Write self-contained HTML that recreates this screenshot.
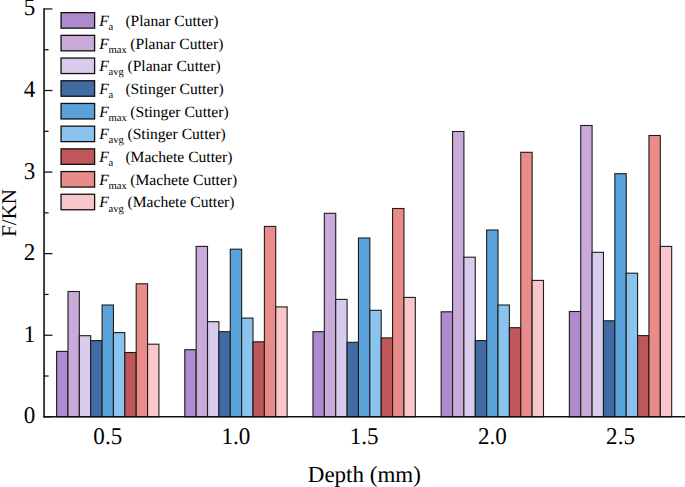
<!DOCTYPE html>
<html><head><meta charset="utf-8"><style>
html,body{margin:0;padding:0;background:#fff;}
body{width:685px;height:487px;overflow:hidden;}
svg{display:block;}
text{font-family:"Liberation Serif",serif;fill:#000;text-rendering:geometricPrecision;}
.tl{font-size:23px;}
.tn{font-size:24px;}
.yt{font-size:21px;}
.lf{font-size:15.7px;font-style:italic;}
.ls{font-size:10.6px;}
.lt{font-size:15.6px;}
</style></head><body>
<svg width="685" height="487" viewBox="0 0 685 487">
<rect width="685" height="487" fill="#fff"/>
<rect x="56.60" y="351.40" width="11.37" height="65.40" fill="#AE8BCE" stroke="#1c1c1c" stroke-width="1.1"/>
<rect x="67.97" y="291.50" width="11.37" height="125.30" fill="#CAAAD8" stroke="#1c1c1c" stroke-width="1.1"/>
<rect x="79.34" y="335.70" width="11.37" height="81.10" fill="#D8CCEC" stroke="#1c1c1c" stroke-width="1.1"/>
<rect x="90.71" y="340.60" width="11.37" height="76.20" fill="#406CA3" stroke="#1c1c1c" stroke-width="1.1"/>
<rect x="102.08" y="305.00" width="11.37" height="111.80" fill="#5BA2DA" stroke="#1c1c1c" stroke-width="1.1"/>
<rect x="113.45" y="332.60" width="11.37" height="84.20" fill="#89C3EE" stroke="#1c1c1c" stroke-width="1.1"/>
<rect x="124.82" y="352.50" width="11.37" height="64.30" fill="#C0565A" stroke="#1c1c1c" stroke-width="1.1"/>
<rect x="136.19" y="283.80" width="11.37" height="133.00" fill="#E98C89" stroke="#1c1c1c" stroke-width="1.1"/>
<rect x="147.56" y="344.20" width="11.37" height="72.60" fill="#F9C6CB" stroke="#1c1c1c" stroke-width="1.1"/>
<rect x="184.79" y="349.70" width="11.37" height="67.10" fill="#AE8BCE" stroke="#1c1c1c" stroke-width="1.1"/>
<rect x="196.16" y="246.40" width="11.37" height="170.40" fill="#CAAAD8" stroke="#1c1c1c" stroke-width="1.1"/>
<rect x="207.53" y="321.70" width="11.37" height="95.10" fill="#D8CCEC" stroke="#1c1c1c" stroke-width="1.1"/>
<rect x="218.90" y="331.70" width="11.37" height="85.10" fill="#406CA3" stroke="#1c1c1c" stroke-width="1.1"/>
<rect x="230.27" y="249.20" width="11.37" height="167.60" fill="#5BA2DA" stroke="#1c1c1c" stroke-width="1.1"/>
<rect x="241.64" y="318.10" width="11.37" height="98.70" fill="#89C3EE" stroke="#1c1c1c" stroke-width="1.1"/>
<rect x="253.01" y="341.80" width="11.37" height="75.00" fill="#C0565A" stroke="#1c1c1c" stroke-width="1.1"/>
<rect x="264.38" y="226.40" width="11.37" height="190.40" fill="#E98C89" stroke="#1c1c1c" stroke-width="1.1"/>
<rect x="275.75" y="306.90" width="11.37" height="109.90" fill="#F9C6CB" stroke="#1c1c1c" stroke-width="1.1"/>
<rect x="312.98" y="331.70" width="11.37" height="85.10" fill="#AE8BCE" stroke="#1c1c1c" stroke-width="1.1"/>
<rect x="324.35" y="213.30" width="11.37" height="203.50" fill="#CAAAD8" stroke="#1c1c1c" stroke-width="1.1"/>
<rect x="335.72" y="299.40" width="11.37" height="117.40" fill="#D8CCEC" stroke="#1c1c1c" stroke-width="1.1"/>
<rect x="347.09" y="342.30" width="11.37" height="74.50" fill="#406CA3" stroke="#1c1c1c" stroke-width="1.1"/>
<rect x="358.46" y="238.00" width="11.37" height="178.80" fill="#5BA2DA" stroke="#1c1c1c" stroke-width="1.1"/>
<rect x="369.83" y="310.30" width="11.37" height="106.50" fill="#89C3EE" stroke="#1c1c1c" stroke-width="1.1"/>
<rect x="381.20" y="337.90" width="11.37" height="78.90" fill="#C0565A" stroke="#1c1c1c" stroke-width="1.1"/>
<rect x="392.57" y="208.50" width="11.37" height="208.30" fill="#E98C89" stroke="#1c1c1c" stroke-width="1.1"/>
<rect x="403.94" y="297.40" width="11.37" height="119.40" fill="#F9C6CB" stroke="#1c1c1c" stroke-width="1.1"/>
<rect x="441.17" y="311.80" width="11.37" height="105.00" fill="#AE8BCE" stroke="#1c1c1c" stroke-width="1.1"/>
<rect x="452.54" y="131.50" width="11.37" height="285.30" fill="#CAAAD8" stroke="#1c1c1c" stroke-width="1.1"/>
<rect x="463.91" y="257.20" width="11.37" height="159.60" fill="#D8CCEC" stroke="#1c1c1c" stroke-width="1.1"/>
<rect x="475.28" y="340.60" width="11.37" height="76.20" fill="#406CA3" stroke="#1c1c1c" stroke-width="1.1"/>
<rect x="486.65" y="230.00" width="11.37" height="186.80" fill="#5BA2DA" stroke="#1c1c1c" stroke-width="1.1"/>
<rect x="498.02" y="305.00" width="11.37" height="111.80" fill="#89C3EE" stroke="#1c1c1c" stroke-width="1.1"/>
<rect x="509.39" y="327.70" width="11.37" height="89.10" fill="#C0565A" stroke="#1c1c1c" stroke-width="1.1"/>
<rect x="520.76" y="152.30" width="11.37" height="264.50" fill="#E98C89" stroke="#1c1c1c" stroke-width="1.1"/>
<rect x="532.13" y="280.40" width="11.37" height="136.40" fill="#F9C6CB" stroke="#1c1c1c" stroke-width="1.1"/>
<rect x="569.36" y="311.50" width="11.37" height="105.30" fill="#AE8BCE" stroke="#1c1c1c" stroke-width="1.1"/>
<rect x="580.73" y="125.50" width="11.37" height="291.30" fill="#CAAAD8" stroke="#1c1c1c" stroke-width="1.1"/>
<rect x="592.10" y="252.30" width="11.37" height="164.50" fill="#D8CCEC" stroke="#1c1c1c" stroke-width="1.1"/>
<rect x="603.47" y="320.80" width="11.37" height="96.00" fill="#406CA3" stroke="#1c1c1c" stroke-width="1.1"/>
<rect x="614.84" y="173.70" width="11.37" height="243.10" fill="#5BA2DA" stroke="#1c1c1c" stroke-width="1.1"/>
<rect x="626.21" y="273.20" width="11.37" height="143.60" fill="#89C3EE" stroke="#1c1c1c" stroke-width="1.1"/>
<rect x="637.58" y="335.60" width="11.37" height="81.20" fill="#C0565A" stroke="#1c1c1c" stroke-width="1.1"/>
<rect x="648.95" y="135.50" width="11.37" height="281.30" fill="#E98C89" stroke="#1c1c1c" stroke-width="1.1"/>
<rect x="660.32" y="246.40" width="11.37" height="170.40" fill="#F9C6CB" stroke="#1c1c1c" stroke-width="1.1"/>
<line x1="44.05" y1="8.3" x2="44.05" y2="417.5" stroke="#111" stroke-width="1.6"/>
<line x1="43.25" y1="416.8" x2="685" y2="416.8" stroke="#111" stroke-width="1.4"/>
<line x1="44.05" y1="416.80" x2="52.4" y2="416.80" stroke="#111" stroke-width="1.25"/>
<text transform="translate(35.3,423.30) scale(0.96,1)" text-anchor="end" class="tn">0</text>
<line x1="44.05" y1="376.01" x2="48.6" y2="376.01" stroke="#111" stroke-width="1.25"/>
<line x1="44.05" y1="335.23" x2="52.4" y2="335.23" stroke="#111" stroke-width="1.25"/>
<text transform="translate(35.3,341.73) scale(0.96,1)" text-anchor="end" class="tn">1</text>
<line x1="44.05" y1="294.44" x2="48.6" y2="294.44" stroke="#111" stroke-width="1.25"/>
<line x1="44.05" y1="253.65" x2="52.4" y2="253.65" stroke="#111" stroke-width="1.25"/>
<text transform="translate(35.3,260.15) scale(0.96,1)" text-anchor="end" class="tn">2</text>
<line x1="44.05" y1="212.86" x2="48.6" y2="212.86" stroke="#111" stroke-width="1.25"/>
<line x1="44.05" y1="172.07" x2="52.4" y2="172.07" stroke="#111" stroke-width="1.25"/>
<text transform="translate(35.3,178.57) scale(0.96,1)" text-anchor="end" class="tn">3</text>
<line x1="44.05" y1="131.29" x2="48.6" y2="131.29" stroke="#111" stroke-width="1.25"/>
<line x1="44.05" y1="90.50" x2="52.4" y2="90.50" stroke="#111" stroke-width="1.25"/>
<text transform="translate(35.3,97.00) scale(0.96,1)" text-anchor="end" class="tn">4</text>
<line x1="44.05" y1="49.71" x2="48.6" y2="49.71" stroke="#111" stroke-width="1.25"/>
<line x1="44.05" y1="8.93" x2="52.4" y2="8.93" stroke="#111" stroke-width="1.25"/>
<text transform="translate(35.3,15.43) scale(0.96,1)" text-anchor="end" class="tn">5</text>
<text transform="translate(107.77,443.8) scale(0.96,1)" text-anchor="middle" class="tn">0.5</text>
<text transform="translate(235.95,443.8) scale(0.96,1)" text-anchor="middle" class="tn">1.0</text>
<text transform="translate(364.15,443.8) scale(0.96,1)" text-anchor="middle" class="tn">1.5</text>
<text transform="translate(492.34,443.8) scale(0.96,1)" text-anchor="middle" class="tn">2.0</text>
<text transform="translate(620.52,443.8) scale(0.96,1)" text-anchor="middle" class="tn">2.5</text>
<text x="364.3" y="481.6" text-anchor="middle" class="tl">Depth (mm)</text>
<text transform="translate(15.5,212.9) rotate(-90)" text-anchor="middle" class="yt">F/KN</text>
<rect x="61.05" y="12.65" width="33.55" height="15.5" fill="#AE8BCE" stroke="#111" stroke-width="1.3"/>
<text x="99.2" y="25.80" class="lf">F</text>
<text x="108.6" y="29.90" class="ls">a</text>
<text x="125.40" y="25.80" class="lt">(Planar Cutter)</text>
<rect x="61.05" y="35.35" width="33.55" height="15.5" fill="#CAAAD8" stroke="#111" stroke-width="1.3"/>
<text x="99.2" y="48.50" class="lf">F</text>
<text x="108.6" y="52.60" class="ls">max</text>
<text x="130.30" y="48.50" class="lt">(Planar Cutter)</text>
<rect x="61.05" y="58.05" width="33.55" height="15.5" fill="#D8CCEC" stroke="#111" stroke-width="1.3"/>
<text x="99.2" y="71.20" class="lf">F</text>
<text x="108.6" y="75.30" class="ls">avg</text>
<text x="127.50" y="71.20" class="lt">(Planar Cutter)</text>
<rect x="61.05" y="80.75" width="33.55" height="15.5" fill="#406CA3" stroke="#111" stroke-width="1.3"/>
<text x="99.2" y="93.90" class="lf">F</text>
<text x="108.6" y="98.00" class="ls">a</text>
<text x="125.40" y="93.90" class="lt">(Stinger Cutter)</text>
<rect x="61.05" y="103.45" width="33.55" height="15.5" fill="#5BA2DA" stroke="#111" stroke-width="1.3"/>
<text x="99.2" y="116.60" class="lf">F</text>
<text x="108.6" y="120.70" class="ls">max</text>
<text x="130.30" y="116.60" class="lt">(Stinger Cutter)</text>
<rect x="61.05" y="126.15" width="33.55" height="15.5" fill="#89C3EE" stroke="#111" stroke-width="1.3"/>
<text x="99.2" y="139.30" class="lf">F</text>
<text x="108.6" y="143.40" class="ls">avg</text>
<text x="127.50" y="139.30" class="lt">(Stinger Cutter)</text>
<rect x="61.05" y="148.85" width="33.55" height="15.5" fill="#C0565A" stroke="#111" stroke-width="1.3"/>
<text x="99.2" y="162.00" class="lf">F</text>
<text x="108.6" y="166.10" class="ls">a</text>
<text x="125.40" y="162.00" class="lt">(Machete Cutter)</text>
<rect x="61.05" y="171.55" width="33.55" height="15.5" fill="#E98C89" stroke="#111" stroke-width="1.3"/>
<text x="99.2" y="184.70" class="lf">F</text>
<text x="108.6" y="188.80" class="ls">max</text>
<text x="130.30" y="184.70" class="lt">(Machete Cutter)</text>
<rect x="61.05" y="194.25" width="33.55" height="15.5" fill="#F9C6CB" stroke="#111" stroke-width="1.3"/>
<text x="99.2" y="207.40" class="lf">F</text>
<text x="108.6" y="211.50" class="ls">avg</text>
<text x="127.50" y="207.40" class="lt">(Machete Cutter)</text>
</svg>
</body></html>
